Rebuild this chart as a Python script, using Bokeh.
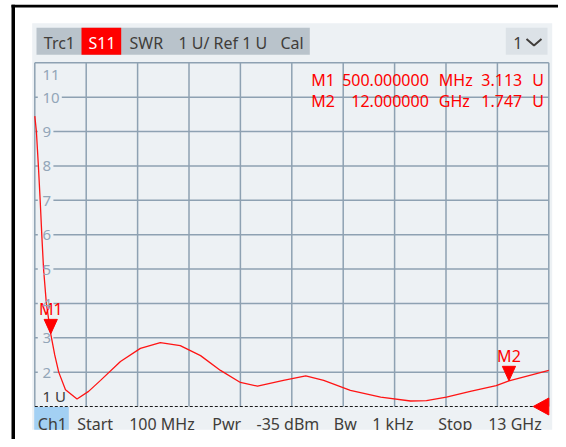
import numpy as np
from bokeh.plotting import figure
from bokeh.models import Range1d
from bokeh.core.properties import value
from bokeh.embed import file_html
from bokeh.resources import INLINE

# ---------------- data ----------------
freq_ghz = [0.10, 0.14, 0.19, 0.235, 0.275, 0.32, 0.39, 0.50, 0.60, 0.70, 0.87, 1.16, 1.45,
            1.75, 2.25, 2.75, 3.25, 3.75, 4.26, 4.76, 5.26, 5.69, 6.34, 6.90, 7.35, 8.02,
            8.78, 9.53, 9.93, 10.43, 11.03, 11.68, 12.00, 13.00]
swr = [9.45, 9.00, 8.00, 7.00, 6.00, 5.00, 4.00, 3.113, 2.50, 2.00, 1.49, 1.22, 1.44,
       1.76, 2.31, 2.69, 2.86, 2.77, 2.48, 2.05, 1.70, 1.59, 1.76, 1.89, 1.76, 1.47,
       1.27, 1.16, 1.17, 1.27, 1.44, 1.61, 1.747, 2.05]

f_start_ghz = 0.1
f_stop_ghz = 13.0
n_freq_div = 10
swr_ticks = [1, 2, 3, 4, 5, 6, 7, 8, 9, 10, 11]
swr_tick_labels = ["1 U", "2", "3", "4", "5", "6", "7", "8", "9", "10", "11"]
ref_level = 1

marker_names = ["M1", "M2"]
marker_freq_ghz = [0.5, 12.0]
marker_swr = [3.113, 1.747]
marker_freq_text = ["500.000000", "12.000000"]
marker_freq_units = ["MHz", "GHz"]
marker_swr_text = ["3.113", "1.747"]
marker_swr_units = ["U", "U"]

header_labels = ["Trc1", "S11", "SWR", "1 U/ Ref 1 U", "Cal"]
status_labels = ["Ch1", "Start", "100 MHz", "Pwr", "-35 dBm", "Bw", "1 kHz", "Stop", "13 GHz"]
channel_menu_label = "1"

# ---------------- layout (pixels) ----------------
OFF = 0
W, H = 558, 439
GL, GR, GT, GB = 34.3, 548.3, 62.3, 406.0
TDY = -5.0  # text baseline correction

header_x = [43.3, 88.0, 129.0, 178.0, 280.0]
status_x = [37.3, 76.7, 128.7, 211.7, 256.0, 333.3, 371.7, 437.7, 487.7]
readout_rows_y = [84.0 + TDY, 105.7 + TDY]

FONT = value("Noto Sans")
RED = "#ff0000"
GRID = "#8ea1b2"
AXIS_TXT = "#93a6b8"
DARK = "#403d3a"
PANEL = "#edf1f4"
BAR = "#b9c3cb"

px_per_ghz = (GR - GL) / (f_stop_ghz - f_start_ghz)
px_per_u = (GB - GT) / (swr_ticks[-1] - swr_ticks[0])

p = figure(width=W, height=H, output_backend="svg", toolbar_location=None,
           x_range=Range1d(OFF, OFF + W), y_range=Range1d(OFF + H, OFF),
           min_border=0, x_axis_location=None, y_axis_location=None)
p.outline_line_color = None
p.background_fill_color = "white"
p.border_fill_color = "white"
p.xgrid.visible = False
p.ygrid.visible = False

p.extra_x_ranges = {"f": Range1d(f_start_ghz - (GL - OFF) / px_per_ghz,
                                 f_stop_ghz + (OFF + W - GR) / px_per_ghz)}
p.extra_y_ranges = {"s": Range1d(swr_ticks[0] - (OFF + H - GB) / px_per_u,
                                 swr_ticks[-1] + (GT - OFF) / px_per_u)}

# frame of the window (black)
p.quad(left=[11, 11], right=[563, 14.5], top=[4.3, 4.3], bottom=[7.0, 447],
       fill_color="black", line_color=None)
# panel background
p.quad(left=[31.7], right=[551.7], top=[22.7], bottom=[429.3], fill_color=PANEL, line_color=None)
# header bar, S11 highlight, channel menu box, Ch1 highlight
p.quad(left=[36.0], right=[309.3], top=[27.3], bottom=[54.3], fill_color=BAR, line_color=None)
p.quad(left=[81.0], right=[120.7], top=[27.3], bottom=[54.3], fill_color="#ff0000", line_color=None)
p.quad(left=[505.3], right=[547.0], top=[27.3], bottom=[54.3], fill_color="#dce2e7", line_color=None)
p.quad(left=[33.7], right=[68.3], top=[406.5], bottom=[429.3], fill_color="#a3d0f3", line_color=None)

# vertical grid lines
xt = np.linspace(f_start_ghz, f_stop_ghz, n_freq_div + 1)
p.segment(x0=xt, y0=[swr_ticks[0]] * len(xt), x1=xt, y1=[swr_ticks[-1]] * len(xt),
          x_range_name="f", y_range_name="s", line_color=GRID, line_width=1.5)
# top grid line
p.segment(x0=[GL], y0=[swr_ticks[-1]], x1=[GR], y1=[swr_ticks[-1]],
          y_range_name="s", line_color=GRID, line_width=1.5)
# horizontal grid lines, interrupted by labels
LABEL_X = 42.0
mid_ticks = swr_ticks[1:-1]
mid_labels = swr_tick_labels[1:-1]
stub_x0 = [GL] * len(mid_ticks)
stub_x1 = [GL + 3.0] * len(mid_ticks)
gap_end = [LABEL_X + len(t) * 8.4 + 2.5 for t in mid_labels]
p.segment(x0=stub_x0, y0=mid_ticks, x1=stub_x1, y1=mid_ticks,
          y_range_name="s", line_color=GRID, line_width=1.5)
p.segment(x0=gap_end, y0=mid_ticks, x1=[GR] * len(mid_ticks), y1=mid_ticks,
          y_range_name="s", line_color=GRID, line_width=1.5)

# reference line (dashed)
p.segment(x0=[GL], y0=[ref_level], x1=[GR], y1=[ref_level], y_range_name="s",
          line_color="#1a1a1a", line_width=1.2, line_dash="3 2")

# trace
p.line(freq_ghz, swr, x_range_name="f", y_range_name="s", line_color="#ff1414", line_width=1.3)

# marker triangles and labels
hw = 6.6 / px_per_ghz
th = 14.5 / px_per_u
mxs = [[f - hw, f + hw, f] for f in marker_freq_ghz]
mys = [[v + th, v + th, v] for v in marker_swr]
p.patches(mxs, mys, x_range_name="f", y_range_name="s", fill_color=RED, line_color=RED)
p.text(x=marker_freq_ghz, y=marker_swr, text=marker_names, x_range_name="f", y_range_name="s",
       y_offset=-19.4 + TDY, text_align="center", text_baseline="alphabetic",
       text_font=FONT, text_font_size="16px", text_color=RED)

# marker readout table
for xs_, txt, al in [(310.7, marker_names, "left"), (428.3, marker_freq_text, "right"),
                     (438.3, marker_freq_units, "left"), (521.7, marker_swr_text, "right"),
                     (531.7, marker_swr_units, "left")]:
    p.text(x=[xs_] * len(txt), y=readout_rows_y, text=txt, text_align=al,
           text_baseline="alphabetic", text_font=FONT, text_font_size="16px", text_color=RED)

# y axis labels
p.text(x=[LABEL_X] * len(mid_ticks), y=mid_ticks, text=mid_labels, y_range_name="s",
       y_offset=5.5 + TDY, text_baseline="alphabetic", text_align="left",
       text_font=FONT, text_font_size="15px", text_color=AXIS_TXT)
p.text(x=[LABEL_X], y=[swr_ticks[-1]], text=[swr_tick_labels[-1]], y_range_name="s",
       y_offset=17.0 + TDY, text_baseline="alphabetic", text_align="left",
       text_font=FONT, text_font_size="15px", text_color=AXIS_TXT)
p.text(x=[LABEL_X], y=[swr_ticks[0]], text=[swr_tick_labels[0]], y_range_name="s",
       y_offset=-6.0 + TDY, text_baseline="alphabetic", text_align="left",
       text_font=FONT, text_font_size="15px", text_color="#3a3a3a")

# header texts
hdr_colors = [DARK if t != "S11" else "white" for t in header_labels]
p.text(x=header_x, y=[47.7 + TDY] * len(header_labels), text=header_labels, text_color=hdr_colors,
       text_align="left", text_baseline="alphabetic", text_font=FONT, text_font_size="16px")
p.text(x=[512.7], y=[47.7 + TDY], text=[channel_menu_label], text_color=DARK,
       text_align="left", text_baseline="alphabetic", text_font=FONT, text_font_size="16px")
p.line(x=[526, 533.5, 541], y=[38.5, 45, 38.5], line_color=DARK, line_width=2)

# status texts
p.text(x=status_x, y=[428.2 + TDY] * len(status_labels), text=status_labels, text_color=DARK,
       text_align="left", text_baseline="alphabetic", text_font=FONT, text_font_size="16px")

# reference level marker (right)
rh = 8.5 / px_per_u
p.patch(x=[GR, GR, GR - 15.6], y=[ref_level + rh, ref_level - rh, ref_level], y_range_name="s",
        fill_color=RED, line_color=RED)

# white area below status bar (clips descenders)
p.quad(left=[14.6], right=[OFF + W], top=[429.4], bottom=[OFF + H], fill_color="white", line_color=None)

open("out.html", "w").write(file_html(p, INLINE))
